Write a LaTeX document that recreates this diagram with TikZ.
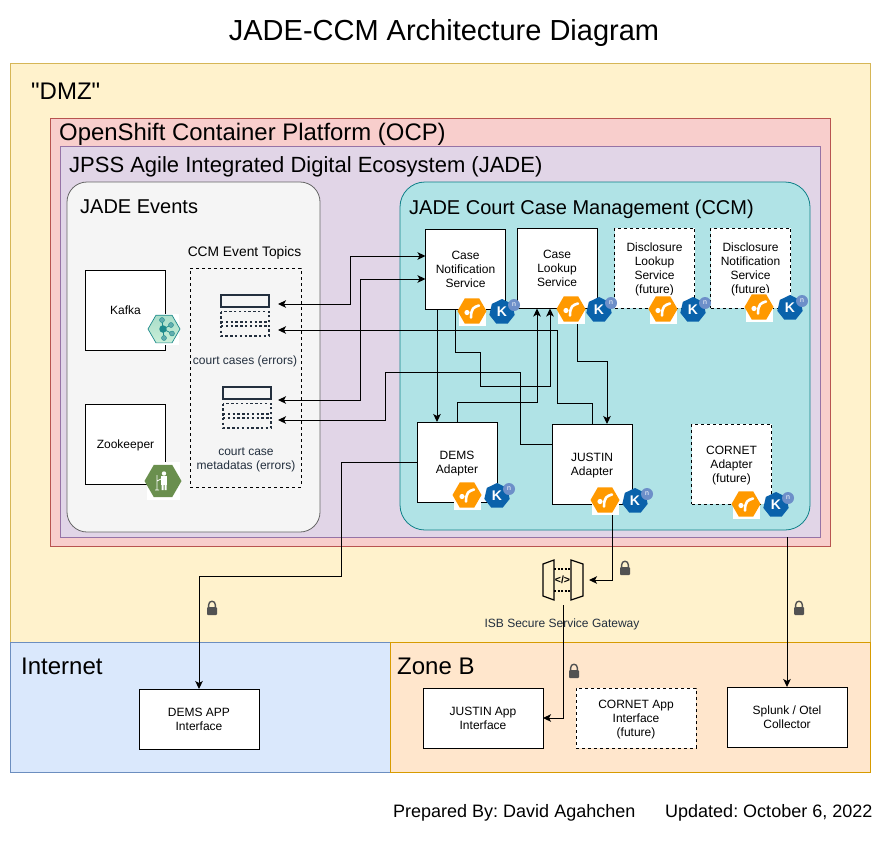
\documentclass[tikz,border=0pt]{standalone}
\usepackage{fontspec}
\setmainfont{Liberation Sans}
\newfontfamily\quotefont{Liberation Sans}
\frenchspacing
\usepackage{tikz}
\usetikzlibrary{arrows.meta,shapes.geometric}
\definecolor{dmzfill}{HTML}{FFF2CC}
\definecolor{dmzline}{HTML}{D6B656}
\definecolor{netfill}{HTML}{DAE8FC}
\definecolor{netline}{HTML}{6C8EBF}
\definecolor{zonefill}{HTML}{FFE6CC}
\definecolor{zoneline}{HTML}{D79B00}
\definecolor{ocpfill}{HTML}{F8CECC}
\definecolor{ocpline}{HTML}{B85450}
\definecolor{jadefill}{HTML}{E1D5E7}
\definecolor{jadeline}{HTML}{9673A6}
\definecolor{evfill}{HTML}{F5F5F5}
\definecolor{evline}{HTML}{666666}
\definecolor{ccmfill}{HTML}{B0E3E6}
\definecolor{ccmline}{HTML}{0E8088}
\definecolor{slate}{HTML}{232F3E}
\definecolor{camel}{HTML}{FF9900}
\definecolor{knblue}{HTML}{0A62AB}
\definecolor{knlight}{HTML}{6D8FC9}
\definecolor{kafkateal}{HTML}{1E8A8C}
\definecolor{kafkamint}{HTML}{A9DDC9}
\definecolor{kafkapale}{HTML}{C9EFD8}
\definecolor{keepgreen}{HTML}{6A8F4E}
\newcommand{\fsize}[1]{\fontsize{#1}{#1}\selectfont}
\tikzset{
  zone/.style={draw,line width=0.8pt,inner sep=0pt,outer sep=0pt},
  head/.style={anchor=west,inner sep=0pt,font=\fsize{#1}},
  box/.style={draw,fill=white,line width=1pt,inner sep=0pt,outer sep=0pt,
    minimum width=80pt,minimum height=80pt,align=center,
    font=\fontsize{12}{14}\selectfont,text depth=-2pt},
  appbox/.style={box,minimum width=120pt,minimum height=60pt},
  future/.style={dash pattern=on 3pt off 3pt},
  link/.style={->,line width=1pt},
  >={Stealth[length=8pt,width=7.5pt,inset=2pt]},
  slatetext/.style={text=slate,inner sep=0pt,align=center,font=\fontsize{12}{14}\selectfont},
  pics/padlock/.style={code={
    \fill[rounded corners=1pt,fill=black!68] (-5,-1) rectangle (5,7);
    \draw[line width=1.4pt,draw=black!68] (-3.4,0) -- (-3.4,-3) .. controls (-3.4,-8) and (3.4,-8) .. (3.4,-3) -- (3.4,0);
  }},
}
\begin{document}
\begin{tikzpicture}[x=1pt,y=-1pt]
\useasboundingbox (0,0) rectangle (882,841);

% title
\node[inner sep=0pt,font=\fsize{29}] (title) at (444,33) {JADE-CCM Architecture Diagram};

% zones
\node[zone,fill=dmzfill,draw=dmzline,minimum width=860pt,minimum height=579pt] (dmz) at (440,352.5) {};
\node[zone,fill=netfill,draw=netline,minimum width=380pt,minimum height=130pt] (internet) at (200,707) {};
\node[zone,fill=zonefill,draw=zoneline,minimum width=480pt,minimum height=130pt] (zoneb) at (630,707) {};
\node[zone,fill=ocpfill,draw=ocpline,minimum width=780pt,minimum height=428pt] (ocp) at (440,332) {};
\node[zone,fill=jadefill,draw=jadeline,minimum width=760pt,minimum height=391pt] (jade) at (440,341.5) {};
\node[zone,fill=evfill,draw=evline,rounded corners=20pt,minimum width=253pt,minimum height=350pt] (events) at (193.5,357) {};
\node[zone,fill=ccmfill,draw=ccmline,rounded corners=25pt,minimum width=410pt,minimum height=348pt] (ccm) at (605,356) {};

% zone titles
\node[head=24] (dmz title) at (31,91) {\quotefont "DMZ"};
\node[head=23.9] (ocp title) at (59,134) {OpenShift Container Platform (OCP)};
\node[head=22] (jade title) at (69,167) {JPSS Agile Integrated Digital Ecosystem (JADE)};
\node[head=20] (events title) at (80,207) {JADE Events};
\node[head=20] (ccm title) at (409,209) {JADE Court Case Management (CCM)};
\node[head=24] (internet title) at (21,666) {Internet};
\node[head=24] (zoneb title) at (397,666) {Zone B};

% events
\node[box] (kafka) at (125.5,310) {Kafka};
\node[box] (zookeeper) at (125.5,444.5) {Zookeeper};
\node[zone,future,draw=black,minimum width=111pt,minimum height=219pt] (topics) at (245.5,377.5) {};
\node[inner sep=0pt,font=\fsize{13.8}] (topics title) at (244.5,253) {CCM Event Topics};
\node[slatetext] (cases text) at (245,361.5) {court cases (errors)};
\node[slatetext] (meta text) at (246,460) {court case\\metadatas (errors)};

% topic tables
\foreach \tx/\ty in {221/295,223/387} {
  \draw[slate,line width=1.5pt] (\tx,\ty) rectangle ++(48,12);
  \draw[slate,line width=1.4pt,dash pattern=on 2.4pt off 2.4pt] (\tx,\ty+16.5) rectangle ++(48,24.5);
  \draw[slate,line width=1.4pt,dash pattern=on 2.4pt off 2.4pt] (\tx,\ty+27) -- ++(48,0) (\tx,\ty+31) -- ++(48,0);
}

% services
\node[box] (casenotif) at (465.5,269) {Case\\Notification\\Service};
\node[box] (lookup) at (557,268.5) {Case\\Lookup\\Service};
\node[box,future] (disclookup) at (654.5,268) {Disclosure\\Lookup\\Service\\(future)};
\node[box,future] (discnotif) at (750.5,268) {Disclosure\\Notification\\Service\\(future)};
\node[box] (demsad) at (457,462) {DEMS\\Adapter};
\node[box] (justin) at (592,464) {JUSTIN\\Adapter};
\node[box,future] (cornet) at (731.5,464) {CORNET\\Adapter\\(future)};

% outside
\node[appbox] (demsapp) at (199,719) {DEMS APP\\Interface};
\node[appbox] (justinapp) at (483,718) {JUSTIN App\\Interface};
\node[appbox,future] (cornetapp) at (636,718) {CORNET App\\Interface\\(future)};
\node[appbox] (splunk) at (787,717) {Splunk / Otel\\Collector};

% gateway
\node[minimum width=52pt,minimum height=50pt,inner sep=0pt,outer sep=0pt] (gateway) at (563,580) {};
\draw[line width=1.2pt] (543,564) -- (554,560) -- (554,600) -- (543,596) -- cycle;
\draw[line width=1.2pt] (571,560) -- (583,564) -- (583,596) -- (571,600) -- cycle;
\draw[line width=1.2pt,dash pattern=on 2pt off 1.5pt] (554,569) -- (571,569) (554,591) -- (571,591);
\node[inner sep=0pt,font=\bfseries\fsize{10.5}] (gateway code) at (562.5,580) {</>};
\node[slatetext] (gateway text) at (562,624.5) {ISB Secure Service Gateway};

% free ends at the topics
\coordinate (cases in) at (278,304);
\coordinate (cases out) at (278,330);
\coordinate (meta in) at (278,400);
\coordinate (meta out) at (278,420);

% connectors
\draw[link,<->] ([yshift=13pt]casenotif.west) -- ++(-75,0) |- (cases in);
\draw[link,<->] ([yshift=-10pt]casenotif.west) -- ++(-65,0) |- (meta in);
\draw[link] (justin.north) -- ++(0,-21) -- ++(-35,0) |- (cases out);
\draw[link] ([yshift=20pt]justin.west) -- ++(-32,0) -- ++(0,-72) -- ++(-135,0) |- (meta out);
\draw[link] ([xshift=-28.5pt]casenotif.south) -- ([xshift=-20pt]demsad.north);
\draw[link] ([xshift=-10pt]casenotif.south) -- ++(0,43) -- ++(25,0) -- ++(0,34) -| ([xshift=-7pt]lookup.south);
\draw[link] (demsad.north) -- ++(0,-20) -| ([xshift=-20pt]lookup.south);
\draw[link] ([xshift=20pt]lookup.south) -- ++(0,53) -| ([xshift=15pt]justin.north);
\draw[link] (demsad.west) -- ++(-76,0) -- ++(0,114) -| (demsapp.north);
\draw[link] ([xshift=20pt]justin.south) |- (gateway.east);
\draw[link] (gateway.south) |- (justinapp.east);
\draw[link] (jade.south -| splunk.north) -- (splunk.north);

% locks
\foreach \lx/\ly in {212/608,625/568,574/671,799/608}
  \pic at (\lx,\ly) {padlock};

% camel and knative icons
\foreach \cx/\cy/\kd in {472/311/30,571/309/28,663/309/30,759/307/31,467/495/30,605/500/30,746/504/30} {
  \fill[white] (\cx-13.5,\cy-14) rectangle (\cx+13.5,\cy+15);
  \node[regular polygon,regular polygon sides=6,fill=camel,minimum size=29pt,inner sep=0pt] (camel \cx) at (\cx,\cy) {};
  \draw[white,line width=2.6pt,line cap=round] (\cx+7,\cy-5.5) .. controls (\cx+2,\cy-4) and (\cx-1,\cy-3) .. (\cx-1,\cy+6.5);
  \fill[white] (\cx-5,\cy+1.5) circle (2.6);
  \node[regular polygon,regular polygon sides=7,fill=knblue,minimum size=26pt,inner sep=0pt,text=white,font=\bfseries\fsize{14}] (knative \cx) at (\cx+\kd,\cy+1) {K};
  \node[circle,fill=knlight,minimum size=12pt,inner sep=0pt,text=white,font=\fsize{7}] (eventing \cx) at (\cx+\kd+12,\cy-6) {n};
}

% kafka icon
\fill[white] (148,314) rectangle (179,345);
\node[regular polygon,regular polygon sides=6,draw=kafkateal,line width=0.7pt,top color=kafkamint,bottom color=kafkapale,minimum size=32pt,inner sep=0pt] (kafka icon) at (164,329) {};
\draw[kafkateal,line width=0.8pt] (163,329) -- (162,320) (163,329) -- (171,325) (163,329) -- (172,333.5) (163,329) -- (164,338);
\node[circle,fill=kafkateal,minimum size=7.5pt,inner sep=0pt] (kafka hub) at (163,329) {};
\foreach \nx/\ny in {162/320,171/325,172/333.5,164/338}
  \fill[kafkateal!70,draw=kafkateal] (\nx,\ny) circle (2.5);

% zookeeper icon
\fill[white] (146.5,462) rectangle (180,500);
\node[regular polygon,regular polygon sides=6,fill=keepgreen,minimum size=37pt,inner sep=0pt] (keeper icon) at (163,481) {};
\fill[white] (164,473.5) circle (2.2);
\fill[white] (161,476) rectangle (167,485);
\fill[white] (161.5,485) rectangle (163.5,490) (164.5,485) rectangle (166.5,490);
\draw[white,line width=0.8pt] (157,475) -- (157,490) (155,490) -- (159,490) (157,481) -- (161,479);

% footer
\node[head=18] (prepared) at (393,813) {Prepared By: David Agahchen};
\node[head=18] (updated) at (665,813) {Updated: October 6, 2022};
\end{tikzpicture}
\end{document}
